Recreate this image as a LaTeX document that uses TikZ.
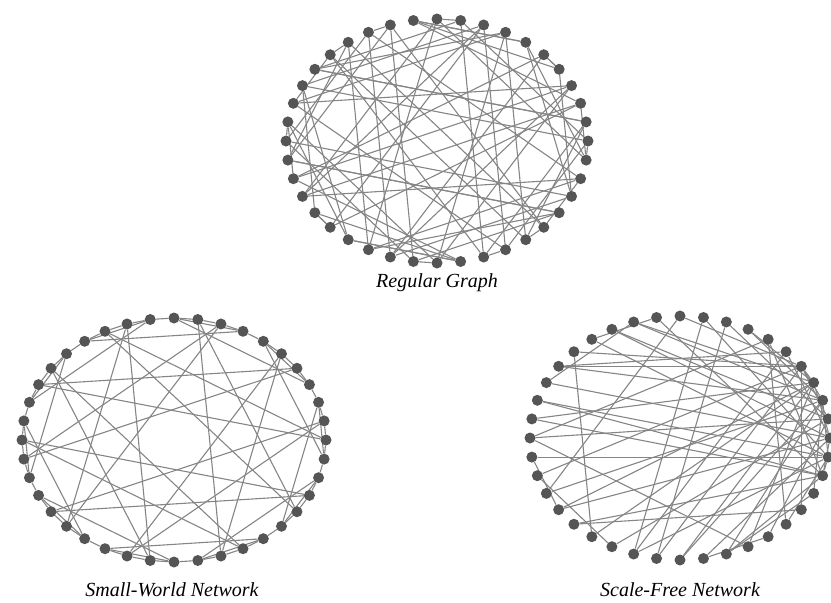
\documentclass[tikz,border=0pt]{standalone}
\usepackage{fontspec}
\setmainfont{Liberation Serif}
\usetikzlibrary{backgrounds}
\definecolor{dotc}{HTML}{555555}
\definecolor{edgec}{HTML}{858585}
\tikzset{
  netdot/.style={circle,fill=dotc,draw=none,minimum size=11pt,inner sep=0pt},
  netedge/.style={draw=edgec,line width=1.1pt},
  caption/.style={font=\fontsize{20}{24}\selectfont\itshape,inner sep=0pt}
}
\begin{document}
\begin{tikzpicture}[x=1pt,y=-1pt]
\useasboundingbox (0,0) rectangle (831,603);
% ---------- Regular Graph ----------
\foreach \i in {0,...,39}{
  \node[netdot] (R\i) at ({437+151*cos(90-9*\i)},{141-122*sin(90-9*\i)}) {};
}
\begin{pgfonlayer}{background}
\foreach \i in {0,...,39}{
  \pgfmathtruncatemacro\ja{mod(\i*7+11,40)}
  \pgfmathtruncatemacro\jb{mod(\i*17+23,40)}
  \draw[netedge] (R\i) -- (R\ja);
  \draw[netedge] (R\i) -- (R\jb);
}
\end{pgfonlayer}
\node[caption] (capR) at (437,283) {Regular Graph};
% ---------- Small-World Network ----------
\foreach \i in {0,...,39}{
  \node[netdot] (S\i) at ({174+152*cos(90-9*\i)},{440-122*sin(90-9*\i)}) {};
}
\begin{pgfonlayer}{background}
\foreach \i in {0,...,39}{
  \pgfmathtruncatemacro\ja{mod(\i+1,40)}
  \pgfmathtruncatemacro\jb{mod(\i*11+7,40)}
  \draw[netedge] (S\i) -- (S\ja);
  \draw[netedge] (S\i) -- (S\jb);
}
\end{pgfonlayer}
\node[caption] (capS) at (172,590) {Small-World Network};
% ---------- Scale-Free Network ----------
\foreach \i in {0,...,39}{
  \node[netdot] (F\i) at ({680+150*cos(90-9*\i)},{438-122*sin(90-9*\i)}) {};
}
\begin{pgfonlayer}{background}
\foreach \i in {0,...,39}{
  \pgfmathtruncatemacro\ja{6+mod(\i*5,7)}
  \pgfmathtruncatemacro\jb{mod(\i*13+9,40)}
  \ifnum\i=\ja\else\draw[netedge] (F\i) -- (F\ja);\fi
  \ifodd\i\draw[netedge] (F\i) -- (F\jb);\fi
}
\foreach \i in {14,18,22,26,30,34,38}{
  \pgfmathtruncatemacro\jc{4+mod(\i*3,5)}
  \draw[netedge] (F\i) -- (F\jc);
}
\end{pgfonlayer}
\node[caption] (capF) at (680,590) {Scale-Free Network};
\end{tikzpicture}
\end{document}
